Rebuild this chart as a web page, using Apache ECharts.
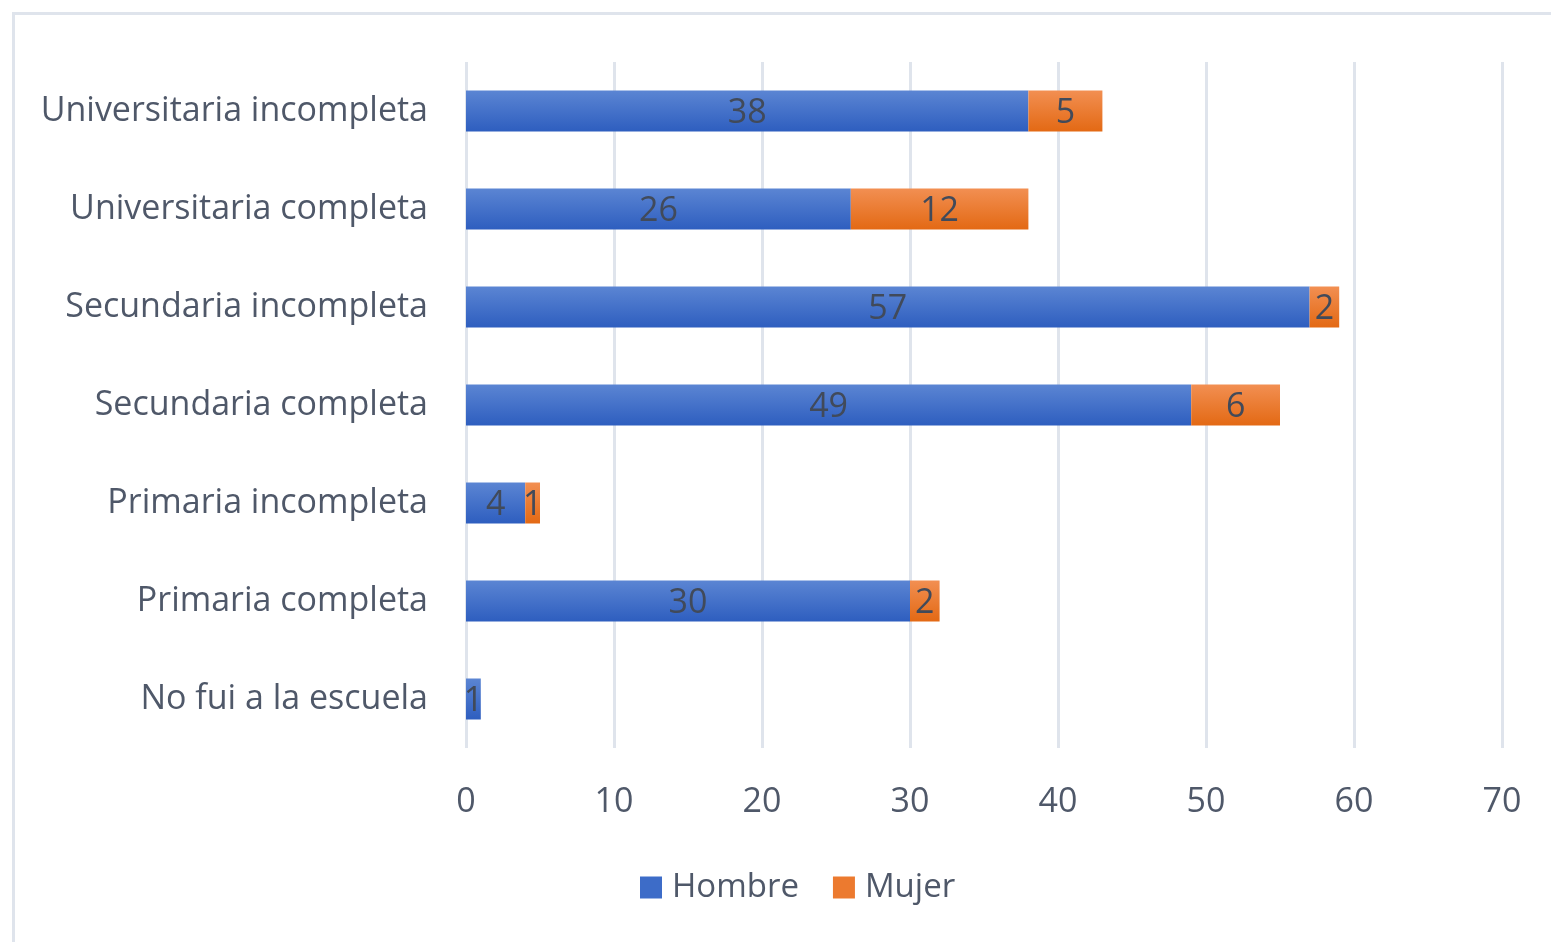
<!DOCTYPE html>
<html>
<head>
<meta charset="utf-8">
<script src="https://cdn.jsdelivr.net/npm/echarts@6/dist/echarts.min.js"></script>
<style>html,body{margin:0;padding:0;background:#fff;}#c{width:1551px;height:942px;}</style>
</head>
<body>
<div id="c"></div>
<script>
const categories = ["No fui a la escuela","Primaria completa","Primaria incompleta","Secundaria completa","Secundaria incompleta","Universitaria completa","Universitaria incompleta"];
const hombre = [1,30,4,49,57,26,38];
const mujer = [0,2,1,6,2,12,5];
const xTicks = [0,10,20,30,40,50,60,70];

const chart = echarts.init(document.getElementById('c'));
const font = '"Open Sans", "Noto Sans", sans-serif';
const txt = '#4f5869';
const blue = new echarts.graphic.LinearGradient(0,0,0,1,[{offset:0,color:'#5b85d3'},{offset:1,color:'#2e5ebf'}]);
const orange = new echarts.graphic.LinearGradient(0,0,0,1,[{offset:0,color:'#f28f52'},{offset:1,color:'#e36914'}]);
const lbl = {show:true,position:'inside',color:'#414a5a',fontSize:34,fontFamily:font,offset:[0,2],
  formatter:p=>p.value?String(p.value):''};
chart.setOption({
  animation:false,
  graphic:[{type:'rect',shape:{x:13.5,y:13.5,width:1700,height:1100},style:{fill:'none',stroke:'#dfe4ec',lineWidth:3},silent:true}],
  grid:{left:466,right:49,top:62,bottom:194},
  legend:{left:635,top:866,itemWidth:22,itemHeight:22,itemGap:34,icon:'rect',
    textStyle:{fontSize:33,color:txt,fontFamily:font,padding:[0,0,0,5]},
    data:[{name:'Hombre',itemStyle:{color:'#3d6cc8'}},{name:'Mujer',itemStyle:{color:'#ec7a2f'}}]},
  xAxis:{type:'value',min:0,max:70,interval:10,
    axisLine:{show:false},axisTick:{show:false},
    splitLine:{lineStyle:{color:'#dfe4ec',width:3}},
    axisLabel:{fontSize:34,color:txt,fontFamily:font,margin:37,
      formatter:v=>xTicks.includes(v)?String(v):''}},
  yAxis:{type:'category',data:categories,
    axisLine:{show:false},axisTick:{show:false},
    axisLabel:{fontSize:34,color:txt,fontFamily:font,margin:38}},
  series:[
    {name:'Hombre',type:'bar',stack:'t',data:hombre,barWidth:41,itemStyle:{color:blue},label:lbl},
    {name:'Mujer',type:'bar',stack:'t',data:mujer,barWidth:41,itemStyle:{color:orange},label:lbl}
  ]
});
</script>
</body>
</html>
